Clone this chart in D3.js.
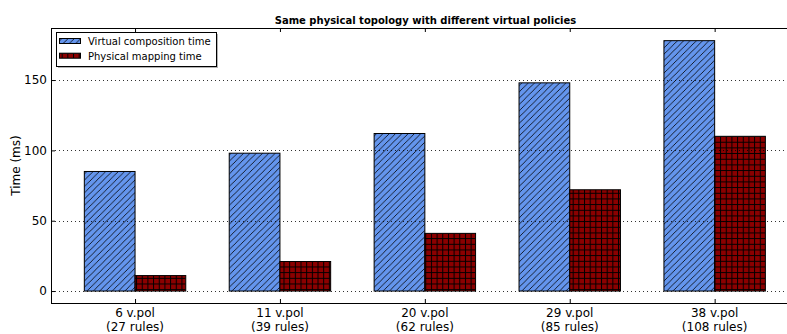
<!DOCTYPE html>
<html>
<head>
<meta charset="utf-8">
<script src="https://cdn.jsdelivr.net/npm/d3@7"></script>
<style>
  body { margin: 0; background: #fff; }
  svg { display: block; font-family: "DejaVu Sans", sans-serif; }
</style>
</head>
<body>
<div id="chart"></div>
<script>
/* chart data */
let categories = ["6 v.pol", "11 v.pol", "20 v.pol", "29 v.pol", "38 v.pol"];
let ruleLabels = ["(27 rules)", "(39 rules)", "(62 rules)", "(85 rules)", "(108 rules)"];
let compositionTime = [85, 98, 112, 148, 178];
let mappingTime = [11, 21, 41, 72, 110];
let yTicks = [0, 50, 100, 150];
let seriesNames = ["Virtual composition time", "Physical mapping time"];

let width = 787;
let height = 334;
let plot = {left: 51, right: 790, top: 28, bottom: 303};
let barWidth = 0.35;

let svg = d3.select("#chart")
            .append("svg")
              .attr("width", width)
              .attr("height", height);

let xScale = d3.scaleLinear()
               .domain([-0.58, 4.52])
               .range([plot.left, plot.right]);

let yScale = d3.scaleLinear()
               .domain([-8.5, 187])
               .range([plot.bottom, plot.top]);

// hatch patterns
let defs = svg.append("defs");
let ds = 6.3;   // diagonal hatch spacing
let gs = 5.67;  // grid hatch spacing

let diag = defs.append("pattern")
               .attr("id", "hatch-diag")
               .attr("patternUnits", "userSpaceOnUse")
               .attr("width", ds)
               .attr("height", ds);
diag.append("rect").attr("width", ds).attr("height", ds).attr("fill", "#6495ed");
diag.append("path")
    .attr("d", `M0,${ds} L${ds},0 M${-ds/2},${ds/2} L${ds/2},${-ds/2} M${ds/2},${ds*1.5} L${ds*1.5},${ds/2}`)
    .attr("stroke", "#000")
    .attr("stroke-width", 0.8);

let grid = defs.append("pattern")
               .attr("id", "hatch-grid")
               .attr("patternUnits", "userSpaceOnUse")
               .attr("width", gs)
               .attr("height", gs);
grid.append("rect").attr("width", gs).attr("height", gs).attr("fill", "#8b0000");
grid.append("path")
    .attr("d", `M0.5,0 V${gs} M0,0.5 H${gs}`)
    .attr("stroke", "#000")
    .attr("stroke-width", 1);

let fills = ["url(#hatch-diag)", "url(#hatch-grid)"];

// bars
let bars = svg.append("g");

bars.selectAll("rect.comp")
    .data(compositionTime)
    .enter()
    .append("rect")
      .attr("class", "comp")
      .attr("x", (d, i) => xScale(i - barWidth))
      .attr("y", d => yScale(d))
      .attr("width", xScale(barWidth) - xScale(0))
      .attr("height", d => yScale(0) - yScale(d))
      .attr("fill", fills[0])
      .attr("stroke", "#000")
      .attr("stroke-width", 1);

bars.selectAll("rect.map")
    .data(mappingTime)
    .enter()
    .append("rect")
      .attr("class", "map")
      .attr("x", (d, i) => xScale(i))
      .attr("y", d => yScale(d))
      .attr("width", xScale(barWidth) - xScale(0))
      .attr("height", d => yScale(0) - yScale(d))
      .attr("fill", fills[1])
      .attr("stroke", "#000")
      .attr("stroke-width", 1);

// dotted horizontal grid, drawn over the bars
svg.append("g")
   .selectAll("line")
   .data(yTicks)
   .enter()
   .append("line")
     .attr("x1", plot.left)
     .attr("x2", plot.right)
     .attr("y1", d => Math.round(yScale(d)) + 0.5)
     .attr("y2", d => Math.round(yScale(d)) + 0.5)
     .attr("stroke", "#000")
     .attr("stroke-width", 1)
     .attr("stroke-dasharray", "1,3")
     .attr("opacity", 0.8);

// axes: inward ticks on all sides
let tickLen = 4;

let yAxis = svg.append("g")
               .attr("transform", `translate(${plot.left},0)`)
               .call(d3.axisLeft(yScale).tickValues(yTicks).tickSize(-tickLen).tickPadding(4));
yAxis.select(".domain").remove();
yAxis.selectAll("text").attr("font-size", 12).attr("fill", "#000")
     .attr("font-family", "DejaVu Sans");

let xAxis = svg.append("g")
               .attr("transform", `translate(0,${plot.bottom})`)
               .call(d3.axisBottom(xScale).tickValues(d3.range(categories.length))
                                          .tickSize(-tickLen).tickFormat(""));
xAxis.select(".domain").remove();

let xTop = svg.append("g")
              .attr("transform", `translate(0,${plot.top})`)
              .call(d3.axisTop(xScale).tickValues(d3.range(categories.length))
                                      .tickSize(-tickLen).tickFormat(""));
xTop.select(".domain").remove();

// two-line category labels
let xLabels = svg.append("g")
                 .attr("font-size", 12)
                 .attr("text-anchor", "middle");
xLabels.selectAll("text.cat")
       .data(categories)
       .enter()
       .append("text")
         .attr("x", (d, i) => xScale(i))
         .attr("y", 317)
         .text(d => d);
xLabels.selectAll("text.rules")
       .data(ruleLabels)
       .enter()
       .append("text")
         .attr("x", (d, i) => xScale(i))
         .attr("y", 330.5)
         .text(d => d);

// frame
svg.append("rect")
   .attr("x", plot.left + 0.5)
   .attr("y", plot.top + 0.5)
   .attr("width", plot.right - plot.left)
   .attr("height", plot.bottom - plot.top)
   .attr("fill", "none")
   .attr("stroke", "#000")
   .attr("stroke-width", 1);

// title and y label
svg.append("text")
   .attr("x", (plot.left + 799) / 2 + 0.5)
   .attr("y", 23.5)
   .attr("text-anchor", "middle")
   .attr("font-size", 10)
   .attr("font-weight", "bold")
   .text("Same physical topology with different virtual policies");

svg.append("text")
   .attr("transform", `translate(20,${(plot.top + plot.bottom) / 2}) rotate(-90)`)
   .attr("text-anchor", "middle")
   .attr("font-size", 12)
   .text("Time (ms)");

// legend with shadow
let legend = svg.append("g").attr("transform", "translate(56,32)");
legend.append("rect")
      .attr("x", 2).attr("y", 2)
      .attr("width", 160).attr("height", 34)
      .attr("fill", "#808080").attr("opacity", 0.6);
legend.append("rect")
      .attr("x", 0.5).attr("y", 0.5)
      .attr("width", 160).attr("height", 34)
      .attr("fill", "#fff").attr("stroke", "#000").attr("stroke-width", 1);

let items = legend.selectAll("g.item")
                  .data(seriesNames)
                  .enter()
                  .append("g")
                    .attr("class", "item")
                    .attr("transform", (d, i) => `translate(0,${6 + i * 14.7})`);
items.append("rect")
     .attr("x", 3.5).attr("y", 0.5)
     .attr("width", 21).attr("height", 5)
     .attr("fill", (d, i) => fills[i])
     .attr("stroke", "#000").attr("stroke-width", 1);
items.append("text")
     .attr("x", 32)
     .attr("y", 7)
     .attr("font-size", 10)
     .text(d => d);
</script>
</body>
</html>
